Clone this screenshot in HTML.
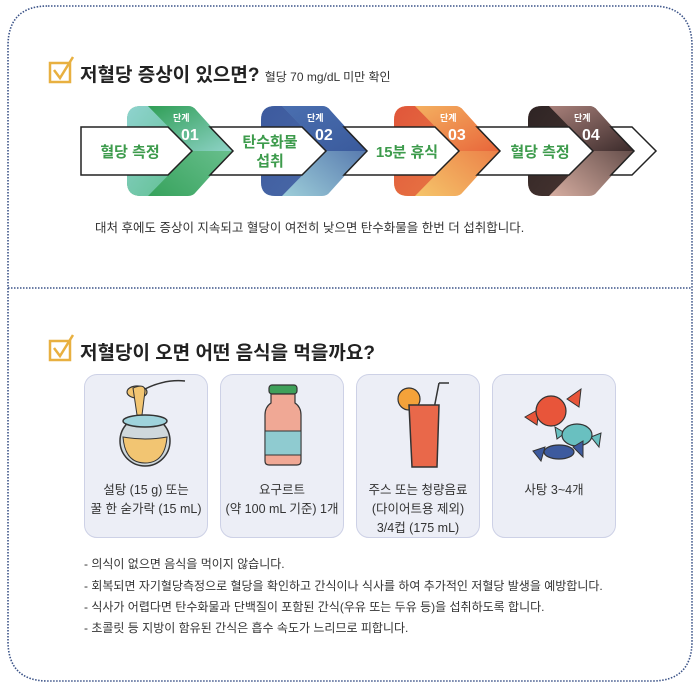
<!DOCTYPE html>
<html><head><meta charset="utf-8">
<style>
body{margin:0;width:700px;height:690px;background:#fff;position:relative;overflow:hidden;font-family:"Liberation Sans","Noto Sans CJK KR",sans-serif;color:#222}
.t{position:absolute;white-space:nowrap}
.card{position:absolute;top:374px;width:124px;height:164px;background:#eceef6;border:1px solid #cdd1e6;border-radius:13px;box-sizing:border-box}
.cap{position:absolute;left:0;right:0;top:106px;text-align:center;font-size:12.5px;line-height:19px;color:#333}
.b{position:absolute;left:84px;font-size:12px;color:#333;white-space:nowrap}
</style></head><body>
<svg width="700" height="690" style="position:absolute;left:0;top:0">
<defs>
<linearGradient id="a1" x1="0" y1="0" x2="1" y2="1"><stop offset="0" stop-color="#8fd3cf"/><stop offset="1" stop-color="#5bbd8a"/></linearGradient>
<linearGradient id="b1" x1="0" y1="0" x2="1" y2="1"><stop offset="0" stop-color="#2f9e55"/><stop offset="1" stop-color="#8fd3c8"/></linearGradient>
<linearGradient id="c1" x1="0" y1="1" x2="1" y2="0"><stop offset="0" stop-color="#2f9e55"/><stop offset="1" stop-color="#7ccaa0"/></linearGradient>
<linearGradient id="a2" x1="0" y1="0" x2="1" y2="1"><stop offset="0" stop-color="#3d5a9e"/><stop offset="1" stop-color="#4a6aa8"/></linearGradient>
<linearGradient id="b2" x1="0" y1="0" x2="1" y2="1"><stop offset="0" stop-color="#4a6fb0"/><stop offset="1" stop-color="#3a5a9c"/></linearGradient>
<linearGradient id="c2" x1="0" y1="1" x2="1" y2="0"><stop offset="0" stop-color="#a8dbe0"/><stop offset="1" stop-color="#3d5a9e"/></linearGradient>
<linearGradient id="a3" x1="0" y1="0" x2="1" y2="1"><stop offset="0" stop-color="#e0563a"/><stop offset="1" stop-color="#e87a45"/></linearGradient>
<linearGradient id="b3" x1="0" y1="0" x2="1" y2="1"><stop offset="0" stop-color="#f4b060"/><stop offset="1" stop-color="#e8653a"/></linearGradient>
<linearGradient id="c3" x1="0" y1="1" x2="1" y2="0"><stop offset="0" stop-color="#f7d070"/><stop offset="1" stop-color="#e8653a"/></linearGradient>
<linearGradient id="a4" x1="0" y1="0" x2="1" y2="1"><stop offset="0" stop-color="#2e2424"/><stop offset="1" stop-color="#4a3632"/></linearGradient>
<linearGradient id="b4" x1="0" y1="0" x2="1" y2="1"><stop offset="0" stop-color="#a8807a"/><stop offset="1" stop-color="#3a2a2a"/></linearGradient>
<linearGradient id="c4" x1="0" y1="1" x2="1" y2="0"><stop offset="0" stop-color="#e8bcae"/><stop offset="1" stop-color="#3a2a2a"/></linearGradient>
<g id="sh">
</g>
</defs>
<path d="M48,6 H652 Q692,6 692,46 V641 Q692,681 652,681 H48 Q8,681 8,641 V46 Q8,6 48,6 Z" fill="none" stroke="#3b5388" stroke-width="1.6" stroke-dasharray="1.5 1.5"/>
<line x1="8" y1="288" x2="692" y2="288" stroke="#3b5388" stroke-width="1.6" stroke-dasharray="1.5 1.5"/>
<g fill="none" stroke="#e8b040" stroke-width="2.5"><rect x="50" y="63" width="20" height="19"/><path d="M54,70 L60,78 L73,57"/>
<rect x="50" y="341" width="20" height="19"/><path d="M54,348 L60,356 L73,335"/></g>

<g transform="translate(0,0)">
<path d="M141,106 H188 Q193,106 196,110 L233,151 L196,192 Q193,196 188,196 H141 Q127,196 127,182 V120 Q127,106 141,106Z" fill="url(#c1)"/>
<path d="M141,106 H148 L192,151 L148,196 H141 Q127,196 127,182 V120 Q127,106 141,106Z" fill="url(#a1)"/>
<path d="M148,106 H188 Q193,106 196,110 L233,151 H192Z" fill="url(#b1)"/>
</g>
<g transform="translate(134,0)">
<path d="M141,106 H188 Q193,106 196,110 L233,151 L196,192 Q193,196 188,196 H141 Q127,196 127,182 V120 Q127,106 141,106Z" fill="url(#c2)"/>
<path d="M141,106 H148 L192,151 L148,196 H141 Q127,196 127,182 V120 Q127,106 141,106Z" fill="url(#a2)"/>
<path d="M148,106 H188 Q193,106 196,110 L233,151 H192Z" fill="url(#b2)"/>
</g>
<g transform="translate(267,0)">
<path d="M141,106 H188 Q193,106 196,110 L233,151 L196,192 Q193,196 188,196 H141 Q127,196 127,182 V120 Q127,106 141,106Z" fill="url(#c3)"/>
<path d="M141,106 H148 L192,151 L148,196 H141 Q127,196 127,182 V120 Q127,106 141,106Z" fill="url(#a3)"/>
<path d="M148,106 H188 Q193,106 196,110 L233,151 H192Z" fill="url(#b3)"/>
</g>
<g transform="translate(401,0)">
<path d="M141,106 H188 Q193,106 196,110 L233,151 L196,192 Q193,196 188,196 H141 Q127,196 127,182 V120 Q127,106 141,106Z" fill="url(#c4)"/>
<path d="M141,106 H148 L192,151 L148,196 H141 Q127,196 127,182 V120 Q127,106 141,106Z" fill="url(#a4)"/>
<path d="M148,106 H188 Q193,106 196,110 L233,151 H192Z" fill="url(#b4)"/>
</g>
<g fill="#fff" stroke="#222" stroke-width="1.5">
<path d="M81,127 H168 L192,151 L168,175 H81Z"/>
<path d="M210,127 H302 L326,151 L302,175 H210 L233,151Z"/>
<path d="M344,127 H435 L459,151 L435,175 H344 L367,151Z"/>
<path d="M477,127 H569 L593,151 L569,175 H477 L500,151Z"/>
<path d="M611,127 H632 L656,151 L632,175 H611 L634,151Z"/>
</g>
<g fill="#fff" font-family="Liberation Sans,Noto Sans CJK KR,sans-serif" font-weight="bold">
<text x="173" y="121" font-size="9">단계</text><text x="181" y="140" font-size="16">01</text>
<text x="307" y="121" font-size="9">단계</text><text x="315" y="140" font-size="16">02</text>
<text x="440" y="121" font-size="9">단계</text><text x="448" y="140" font-size="16">03</text>
<text x="574" y="121" font-size="9">단계</text><text x="582" y="140" font-size="16">04</text>
</g>
<g fill="#3d9b4c" font-family="Liberation Sans,Noto Sans CJK KR,sans-serif" font-weight="bold" font-size="15" text-anchor="middle">
<text x="130" y="157">혈당 측정</text>
<text x="270" y="147">탄수화물</text><text x="270" y="166">섭취</text>
<text x="407" y="157">15분 휴식</text>
<text x="540" y="157">혈당 측정</text>
</g>
</svg>
<div class="t" style="left:80px;top:60px;font-size:19px;font-weight:bold;color:#222">저혈당 증상이 있으면? <span style="font-size:12px;font-weight:normal;color:#333">혈당 70 mg/dL 미만 확인</span></div>
<div class="t" style="left:95px;top:217px;font-size:12.5px;color:#333">대처 후에도 증상이 지속되고 혈당이 여전히 낮으면 탄수화물을 한번 더 섭취합니다.</div>
<div class="t" style="left:80px;top:338px;font-size:19px;font-weight:bold;color:#222">저혈당이 오면 어떤 음식을 먹을까요?</div>

<div class="card" style="left:84px">
<svg width="124" height="100" style="position:absolute;left:0;top:0">
<path d="M60,14 Q80,4 100,6" stroke="#333" fill="none" stroke-width="1.5"/>
<ellipse cx="52" cy="17" rx="10" ry="6" fill="#f2c572" stroke="#333" stroke-width="1.2"/>
<path d="M48,13 Q60,8 60,16 L57,40 L52,40 Z" fill="#f2c572" stroke="#333" stroke-width="1"/>
<ellipse cx="60" cy="66" rx="25" ry="25" fill="#cfd8dc" stroke="#333" stroke-width="1.5"/>
<path d="M38,62 Q60,66 82,62 Q80,88 60,88 Q40,88 38,62Z" fill="#f2c572" stroke="#333" stroke-width="1"/>
<ellipse cx="60" cy="46" rx="22" ry="6" fill="#9fd3dc" stroke="#333" stroke-width="1.5"/>
</svg>
<div class="cap">설탕 (15 g) 또는<br>꿀 한 숟가락 (15 mL)</div></div>

<div class="card" style="left:220px">
<svg width="124" height="100" style="position:absolute;left:0;top:0">
<rect x="48" y="10" width="28" height="9" rx="3" fill="#3fa05a" stroke="#333" stroke-width="1.2"/>
<path d="M50,19 H74 V28 Q80,32 80,40 V86 Q80,90 76,90 H48 Q44,90 44,86 V40 Q44,32 50,28Z" fill="#f0a895" stroke="#333" stroke-width="1.2"/>
<rect x="44" y="56" width="36" height="24" fill="#8fcbd0" stroke="#333" stroke-width="1"/>
</svg>
<div class="cap">요구르트<br>(약 100 mL 기준) 1개</div></div>

<div class="card" style="left:356px">
<svg width="124" height="100" style="position:absolute;left:0;top:0">
<line x1="82" y1="8" x2="68" y2="80" stroke="#333" stroke-width="1.5"/>
<path d="M82,8 H92" stroke="#333" stroke-width="1.5"/>
<circle cx="52" cy="24" r="11" fill="#f4a23a" stroke="#333" stroke-width="1.2"/>
<path d="M52,30 H82 L80,92 H55Z" fill="#e9684a" stroke="#333" stroke-width="1.5"/>
</svg>
<div class="cap">주스 또는 청량음료<br>(다이어트용 제외)<br>3/4컵 (175 mL)</div></div>

<div class="card" style="left:492px">
<svg width="124" height="100" style="position:absolute;left:0;top:0">
<path d="M32,42 L46,34 L44,50Z M74,24 L88,14 L86,32Z" fill="#e8553a" stroke="#333"/>
<circle cx="58" cy="36" r="15" fill="#e8553a" stroke="#333" stroke-width="1.2"/>
<path d="M98,62 L108,58 L106,72Z M62,52 L72,58 L64,64Z" fill="#69c0c0" stroke="#333"/>
<ellipse cx="84" cy="60" rx="15" ry="11" fill="#69c0c0" stroke="#333" stroke-width="1.2"/>
<path d="M40,76 L52,72 L48,86Z M80,72 L90,66 L90,82Z" fill="#3d5a9e" stroke="#333"/>
<ellipse cx="66" cy="77" rx="15" ry="7" fill="#3d5a9e" stroke="#333" stroke-width="1.2"/>
</svg>
<div class="cap">사탕 3~4개</div></div>

<div class="b" style="top:555px">- 의식이 없으면 음식을 먹이지 않습니다.</div>
<div class="b" style="top:577px">- 회복되면 자기혈당측정으로 혈당을 확인하고 간식이나 식사를 하여 추가적인 저혈당 발생을 예방합니다.</div>
<div class="b" style="top:598px">- 식사가 어렵다면 탄수화물과 단백질이 포함된 간식(우유 또는 두유 등)을 섭취하도록 합니다.</div>
<div class="b" style="top:619px">- 초콜릿 등 지방이 함유된 간식은 흡수 속도가 느리므로 피합니다.</div>
</body></html>
